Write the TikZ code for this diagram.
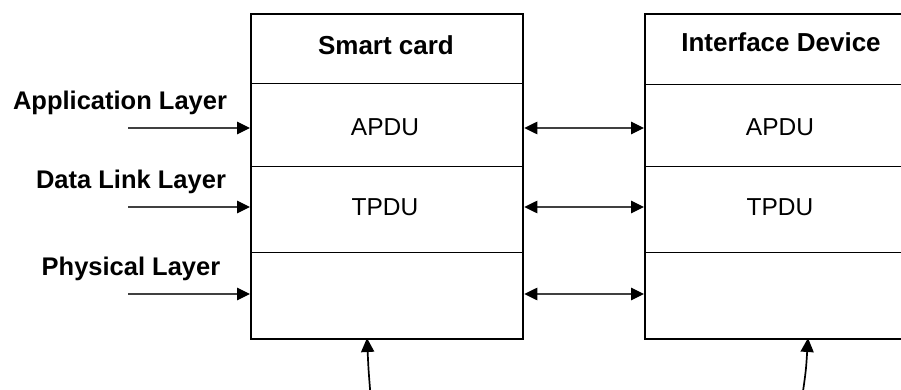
\documentclass[tikz,border=0pt]{standalone}
\usepackage{fontspec}
\setmainfont{Liberation Sans}
\usetikzlibrary{arrows.meta,fit}

\tikzset{
  cell/.style={draw, line width=1.3pt, minimum width=271pt, inner sep=0pt, anchor=north west},
  frame/.style={draw, line width=2pt, inner sep=0pt},
  headtext/.style={font=\fontsize{26}{30}\selectfont\bfseries, anchor=base},
  pdutext/.style={font=\fontsize{24.5}{28}\selectfont, anchor=base},
  layertext/.style={font=\fontsize{25.5}{30}\selectfont\bfseries, anchor=base},
  tip/.style={Triangle[length=13pt,width=13pt,color=black]},
  feed/.style={line width=1.1pt, draw=black!75, -{Triangle[length=13pt,width=12.5pt,color=black]}},
  link/.style={line width=1.1pt, draw=black!75, {Triangle[length=13pt,width=12.5pt,color=black]}-{Triangle[length=13pt,width=12.5pt,color=black]}},
  rise/.style={line width=1.7pt, -{Triangle[length=14pt,width=13pt]}}
}

\begin{document}
\begin{tikzpicture}[x=1pt,y=-1pt]
  \clip (0,0) rectangle (901,390);
  \fill[white] (0,0) rectangle (901,390);

  % smart card column
  \node[cell, minimum height=69pt] (sch) at (251,14) {};
  \node[cell, minimum height=83pt] (sca) at (251,83) {};
  \node[cell, minimum height=86pt] (sct) at (251,166) {};
  \node[cell, minimum height=86pt] (scp) at (251,252) {};
  \node[frame, fit=(sch)(scp)] (sc) {};

  % interface device column
  \node[cell, minimum height=70pt] (idh) at (645,14) {};
  \node[cell, minimum height=82pt] (ida) at (645,84) {};
  \node[cell, minimum height=86pt] (idt) at (645,166) {};
  \node[cell, minimum height=86pt] (idp) at (645,252) {};
  \node[frame, fit=(idh)(idp)] (id) {};

  % cell texts
  \node[headtext] (schl) at (386,55) {Smart card};
  \node[pdutext] (scal) at (385,136) {APDU};
  \node[pdutext] (sctl) at (385,215) {TPDU};
  \node[headtext] (idhl) at (781,52) {Interface Device};
  \node[pdutext] (idal) at (780,136) {APDU};
  \node[pdutext] (idtl) at (780,215) {TPDU};

  % layer names
  \node[layertext] (lapp) at (120,110) {Application Layer};
  \node[layertext] (ldl) at (131,188) {Data Link Layer};
  \node[layertext] (lph) at (131,275) {Physical Layer};

  % incoming arrows
  \coordinate (inapp) at (128,128);
  \coordinate (indl) at (128,207);
  \coordinate (inph) at (128,294);
  \draw[feed] (inapp) -- (inapp -| sc.west);
  \draw[feed] (indl) -- (indl -| sc.west);
  \draw[feed] (inph) -- (inph -| sc.west);

  % peer links
  \coordinate (lkapp) at (522,128);
  \coordinate (lkdl) at (522,207);
  \coordinate (lkph) at (522,294);
  \draw[link] (lkapp -| sc.east) -- (lkapp -| id.west);
  \draw[link] (lkdl -| sc.east) -- (lkdl -| id.west);
  \draw[link] (lkph -| sc.east) -- (lkph -| id.west);

  % arrows rising from below
  \coordinate (scfoot) at (370.5,395);
  \coordinate (scin) at (367,338);
  \coordinate (idfoot) at (802.5,395);
  \coordinate (idin) at (808,338);
  \draw[rise] (scfoot) .. controls (368.5,370) .. (scin);
  \draw[rise] (idfoot) .. controls (806,370) .. (idin);
\end{tikzpicture}
\end{document}
